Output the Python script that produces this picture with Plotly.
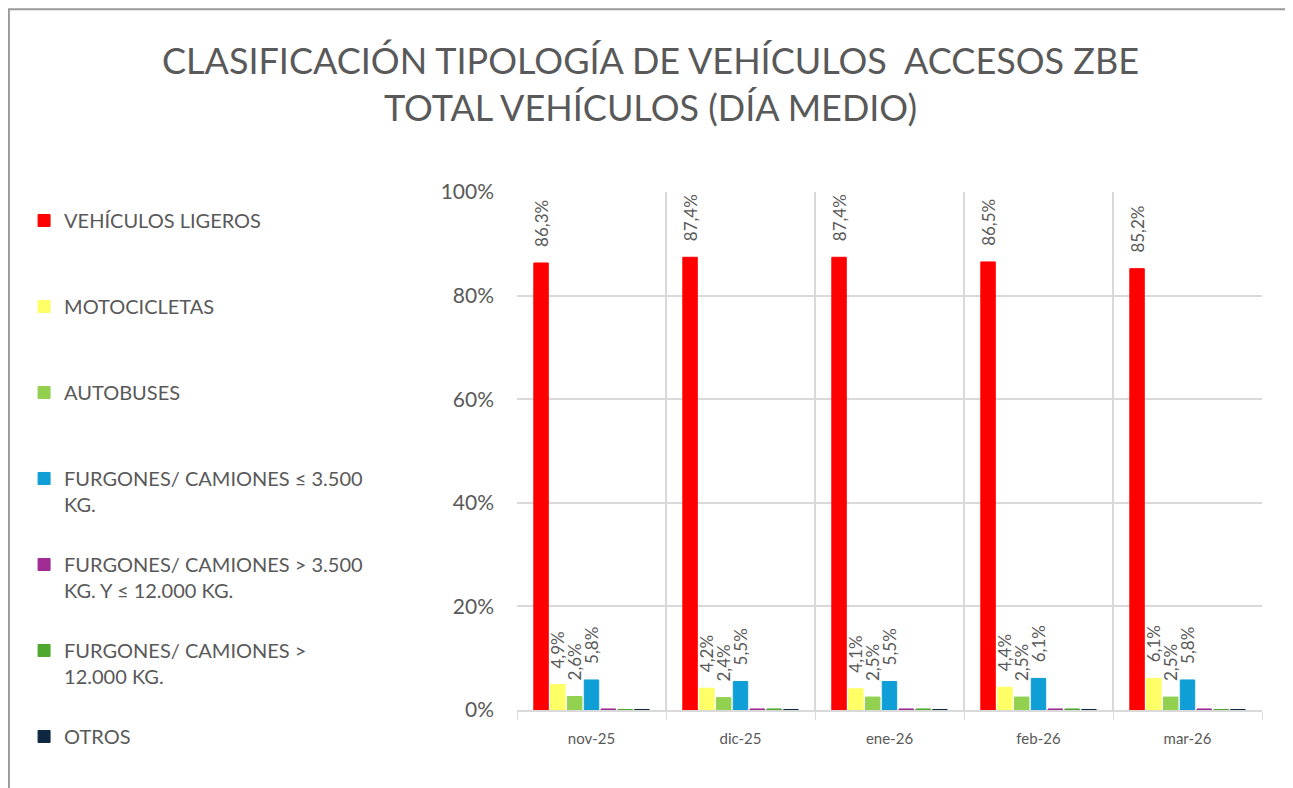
import plotly.graph_objects as go

# data
meses = ["nov-25", "dic-25", "ene-26", "feb-26", "mar-26"]
series = [
    "VEHÍCULOS LIGEROS",
    "MOTOCICLETAS",
    "AUTOBUSES",
    "FURGONES/ CAMIONES ≤ 3.500<br>KG.",
    "FURGONES/ CAMIONES > 3.500<br>KG. Y ≤ 12.000 KG.",
    "FURGONES/ CAMIONES ><br>12.000 KG.",
    "OTROS",
]
ligeros = [0.863, 0.874, 0.874, 0.865, 0.852]
motos = [0.049, 0.042, 0.041, 0.044, 0.061]
autobuses = [0.026, 0.024, 0.025, 0.025, 0.025]
furgones_35 = [0.058, 0.055, 0.055, 0.061, 0.058]
furgones_12 = [0.002, 0.002, 0.002, 0.002, 0.002]
camiones_12 = [0.001, 0.002, 0.002, 0.002, 0.001]
otros = [0.001, 0.001, 0.001, 0.001, 0.001]

valores = [ligeros, motos, autobuses, furgones_35, furgones_12, camiones_12, otros]
colores = ["#FF0000", "#FFFF66", "#92D050", "#0F9ED5", "#A02B93", "#4EA72E", "#0E2841"]
con_etiqueta = [True, True, True, True, False, False, False]

FONT = "Lato"
GRIS = "#595959"

fig = go.Figure()
for i, (nombre, vals, color, lab) in enumerate(zip(series, valores, colores, con_etiqueta)):
    # pad single-line names so every legend entry takes two lines (not the last one)
    name = nombre if ("<br>" in nombre or i == len(series) - 1) else nombre + "<br>\u00a0"
    fig.add_trace(go.Bar(
        name=name,
        x=meses,
        y=vals,
        marker=dict(color=color, line=dict(color=color, width=1)),
        # leading spaces = gap between bar top and the rotated label
        texttemplate="\u00a0" * 3 + "%{y:.1%}" if lab else None,
        textposition="outside" if lab else "none",
        textangle=-90,
        textfont=dict(size=17, color=GRIS, family=FONT),
        constraintext="none",
        cliponaxis=False,
        legendgroup=nombre,
    ))

# outer frame
fig.add_shape(type="rect", xref="paper", yref="paper",
              x0=-0.682, x1=1.0336, y0=-0.3, y1=1.353,
              line=dict(color="#9A9A9A", width=2), layer="below")

fig.update_layout(
    width=1285, height=780,
    separators=",.",
    paper_bgcolor="white", plot_bgcolor="white",
    font=dict(family=FONT, color=GRIS),
    margin=dict(l=509, r=31, t=184, b=78),
    barmode="group", bargap=0.21, bargroupgap=0.14,
    title=dict(
        text="CLASIFICACIÓN TIPOLOGÍA DE VEHÍCULOS  ACCESOS ZBE<br>TOTAL VEHÍCULOS (DÍA MEDIO)",
        x=0.5, xanchor="center", xref="container",
        y=1 - 66 / 780, yanchor="top", yref="container",
        font=dict(size=36, color=GRIS, family=FONT),
    ),
    legend=dict(
        xref="container", yref="container",
        x=0.0125, xanchor="left", y=0.7526, yanchor="top",
        font=dict(size=20, color=GRIS, family=FONT),
        valign="top", tracegroupgap=31, traceorder="grouped",
        bgcolor="rgba(0,0,0,0)", maxheight=600,
    ),
    xaxis=dict(
        tickson="boundaries", ticks="outside", ticklen=8, tickcolor="#D9D9D9",
        showgrid=True, gridcolor="#D9D9D9", gridwidth=2,
        showline=True, linecolor="#D9D9D9", linewidth=2,
        tickfont=dict(size=15, color=GRIS, family=FONT),
        ticklabelstandoff=14,
    ),
    yaxis=dict(
        range=[0, 1], dtick=0.2, tickformat=".0%",
        showgrid=True, gridcolor="#D9D9D9", gridwidth=2,
        zeroline=False,
        tickfont=dict(size=21, color=GRIS, family=FONT),
        ticklabelstandoff=22,
    ),
)

fig.write_html("out.html")
